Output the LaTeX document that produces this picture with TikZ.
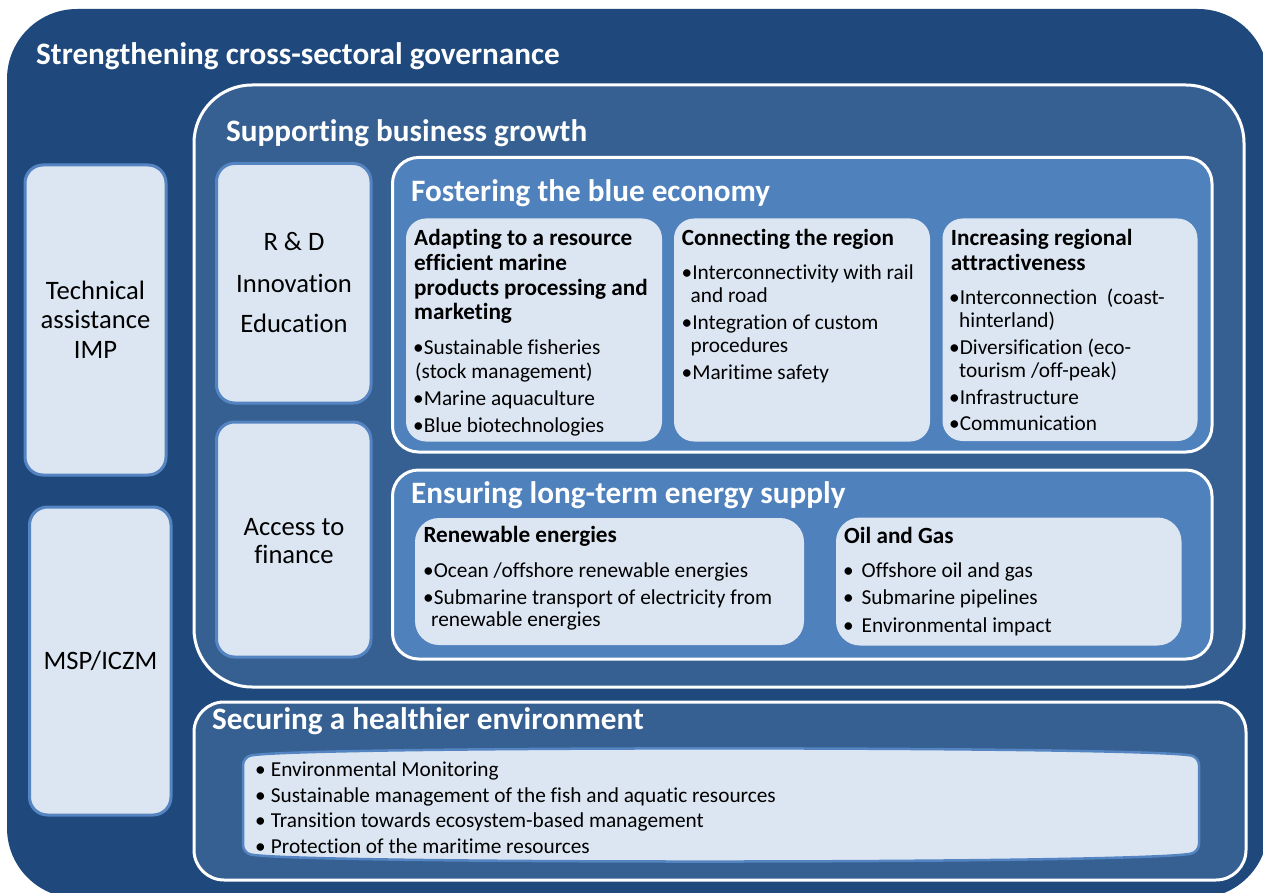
\documentclass[tikz,border=0pt]{standalone}
\usepackage{fontspec}
\setmainfont{Carlito}[Ligatures=NoCommon]
\definecolor{dkblue}{RGB}{31,73,125}
\definecolor{mdblue}{RGB}{54,96,146}
\definecolor{ltblue}{RGB}{79,129,189}
\definecolor{pale}{RGB}{220,230,242}
\definecolor{edgeblue}{RGB}{84,132,193}
\tikzset{
  lvtwo/.style={fill=mdblue, draw=white, line width=3pt},
  lvthree/.style={fill=ltblue, draw=white, line width=3pt},
  subbox/.style={fill=pale},
  sidebox/.style={fill=pale, draw=edgeblue, line width=3pt, rounded corners=18},
  ttl/.style={font=\fontsize{31.2}{36}\selectfont\bfseries, text=white, anchor=base west, inner sep=0pt},
  sub/.style={font=\fontsize{23.2}{27}\selectfont\bfseries, text=black, anchor=base west, inner sep=0pt},
  body/.style={font=\fontsize{21.3}{25}\selectfont, text=black, anchor=base west, inner sep=0pt},
  lbl/.style={font=\fontsize{26.6}{30}\selectfont, text=black, anchor=base, inner sep=0pt},
}
\begin{document}
\begin{tikzpicture}[x=1pt,y=-1pt]
\useasboundingbox (0,0) rectangle (1263,893);
\clip (0,0) rectangle (1263,893);
\fill[white] (0,0) rectangle (1263,893);
% outer
\fill[dkblue, rounded corners=70] (7,9) rectangle (1268,898);
\node[ttl] (tOuter) at (36,64.5) {Strengthening cross-sectoral governance};
% side boxes
\draw[sidebox] (25,165) rectangle (166,475);
\node[lbl] (tTech1) at (95.5,299) {Technical};
\node[lbl] (tTech2) at (95.5,328) {assistance};
\node[lbl] (tTech3) at (95.5,358) {IMP};
\draw[sidebox] (29.5,507) rectangle (171,815);
\node[lbl] (tMsp) at (100.5,669) {MSP/ICZM};
% supporting
\draw[lvtwo, rounded corners=58] (194,85) rectangle (1244,687);
\node[ttl] (tSupp) at (226,141.5) {Supporting business growth};
\draw[sidebox] (216.5,163.5) rectangle (371,403);
\node[lbl] (tRD1) at (294,250.5) {R \& D};
\node[lbl] (tRD2) at (294,292) {Innovation};
\node[lbl] (tRD3) at (294,332) {Education};
\draw[sidebox] (216.5,422) rectangle (371,657);
\node[lbl] (tAcc1) at (294,535) {Access to};
\node[lbl] (tAcc2) at (294,563) {finance};
% fostering
\draw[lvthree, rounded corners=26] (392.5,157.5) rectangle (1212,452);
\node[ttl] (tFost) at (411,201.5) {Fostering the blue economy};
\fill[subbox, rounded corners=20] (406,218.5) rectangle (662,441.5);
\node[sub] (tAd1) at (414,245.5) {Adapting to a resource};
\node[sub] (tAd2) at (414,270.5) {efficient marine};
\node[sub] (tAd3) at (414,295) {products processing and};
\node[sub] (tAd4) at (414,319.5) {marketing};
\node[body] (bAd1) at (413,354.5) {•Sustainable fisheries};
\node[body] (bAd2) at (415,378.5) {(stock management)};
\node[body] (bAd3) at (413,405.5) {•Marine aquaculture};
\node[body] (bAd4) at (413,432.5) {•Blue biotechnologies};
\fill[subbox, rounded corners=20] (674,218.5) rectangle (930,441.5);
\node[sub] (tCo1) at (681.7,245.5) {Connecting the region};
\node[body] (bCo1) at (681.5,279.5) {•Interconnectivity with rail};
\node[body] (bCo2) at (690.5,302.5) {and road};
\node[body] (bCo3) at (681.5,329.5) {•Integration of custom};
\node[body] (bCo4) at (690.5,352.5) {procedures};
\node[body] (bCo5) at (681.5,379) {•Maritime safety};
\fill[subbox, rounded corners=20] (942.5,218.5) rectangle (1197.5,441);
\node[sub] (tIn1) at (950.7,245.5) {Increasing regional};
\node[sub] (tIn2) at (950.7,270.5) {attractiveness};
\node[body] (bIn1) at (949,304.5) {•Interconnection~~(coast-};
\node[body] (bIn2) at (959,327.5) {hinterland)};
\node[body] (bIn3) at (949,354.5) {•Diversification (eco-};
\node[body] (bIn4) at (959,377.5) {tourism /off-peak)};
\node[body] (bIn5) at (949,404) {•Infrastructure};
\node[body] (bIn6) at (949,430.5) {•Communication};
% energy
\draw[lvthree, rounded corners=26] (392.5,470) rectangle (1212,659);
\node[ttl] (tEner) at (411,503) {Ensuring long-term energy supply};
\fill[subbox, rounded corners=24] (415,518) rectangle (804,645);
\node[sub] (tRen) at (423.3,542.5) {Renewable energies};
\node[body] (bRe1) at (423,577.5) {•Ocean /offshore renewable energies};
\node[body] (bRe2) at (423,604) {•Submarine transport of electricity from};
\node[body] (bRe3) at (431,626.5) {renewable energies};
\fill[subbox, rounded corners=24] (836,517.5) rectangle (1181.5,645.5);
\node[sub] (tOil) at (844,543.8) {Oil and Gas};
\node[body] (bOi1) at (843,577.8) {\makebox[18.5pt][l]{•}Offshore oil and gas};
\node[body] (bOi2) at (843,604.8) {\makebox[18.5pt][l]{•}Submarine pipelines};
\node[body] (bOi3) at (843,632.2) {\makebox[18.5pt][l]{•}Environmental impact};
% environment
\draw[lvtwo, rounded corners=30] (194,702) rectangle (1246,880);
\node[ttl] (tEnv) at (212,729.5) {Securing a healthier environment};
\draw[fill=pale, draw=edgeblue, line width=2.5pt, rounded corners=8]
  (243,757) .. controls (300,746) and (1140,746) .. (1199,757)
  -- (1199,852) .. controls (1140,864) and (300,864) .. (243,853) -- cycle;
\node[body] (bEn1) at (255,776.5) {\makebox[15.7pt][l]{•}Environmental Monitoring};
\node[body] (bEn2) at (255,802) {\makebox[15.7pt][l]{•}Sustainable management of the fish and aquatic resources};
\node[body] (bEn3) at (255,827.5) {\makebox[15.7pt][l]{•}Transition towards ecosystem-based management};
\node[body] (bEn4) at (255,853.5) {\makebox[15.7pt][l]{•}Protection of the maritime resources};
\end{tikzpicture}
\end{document}
